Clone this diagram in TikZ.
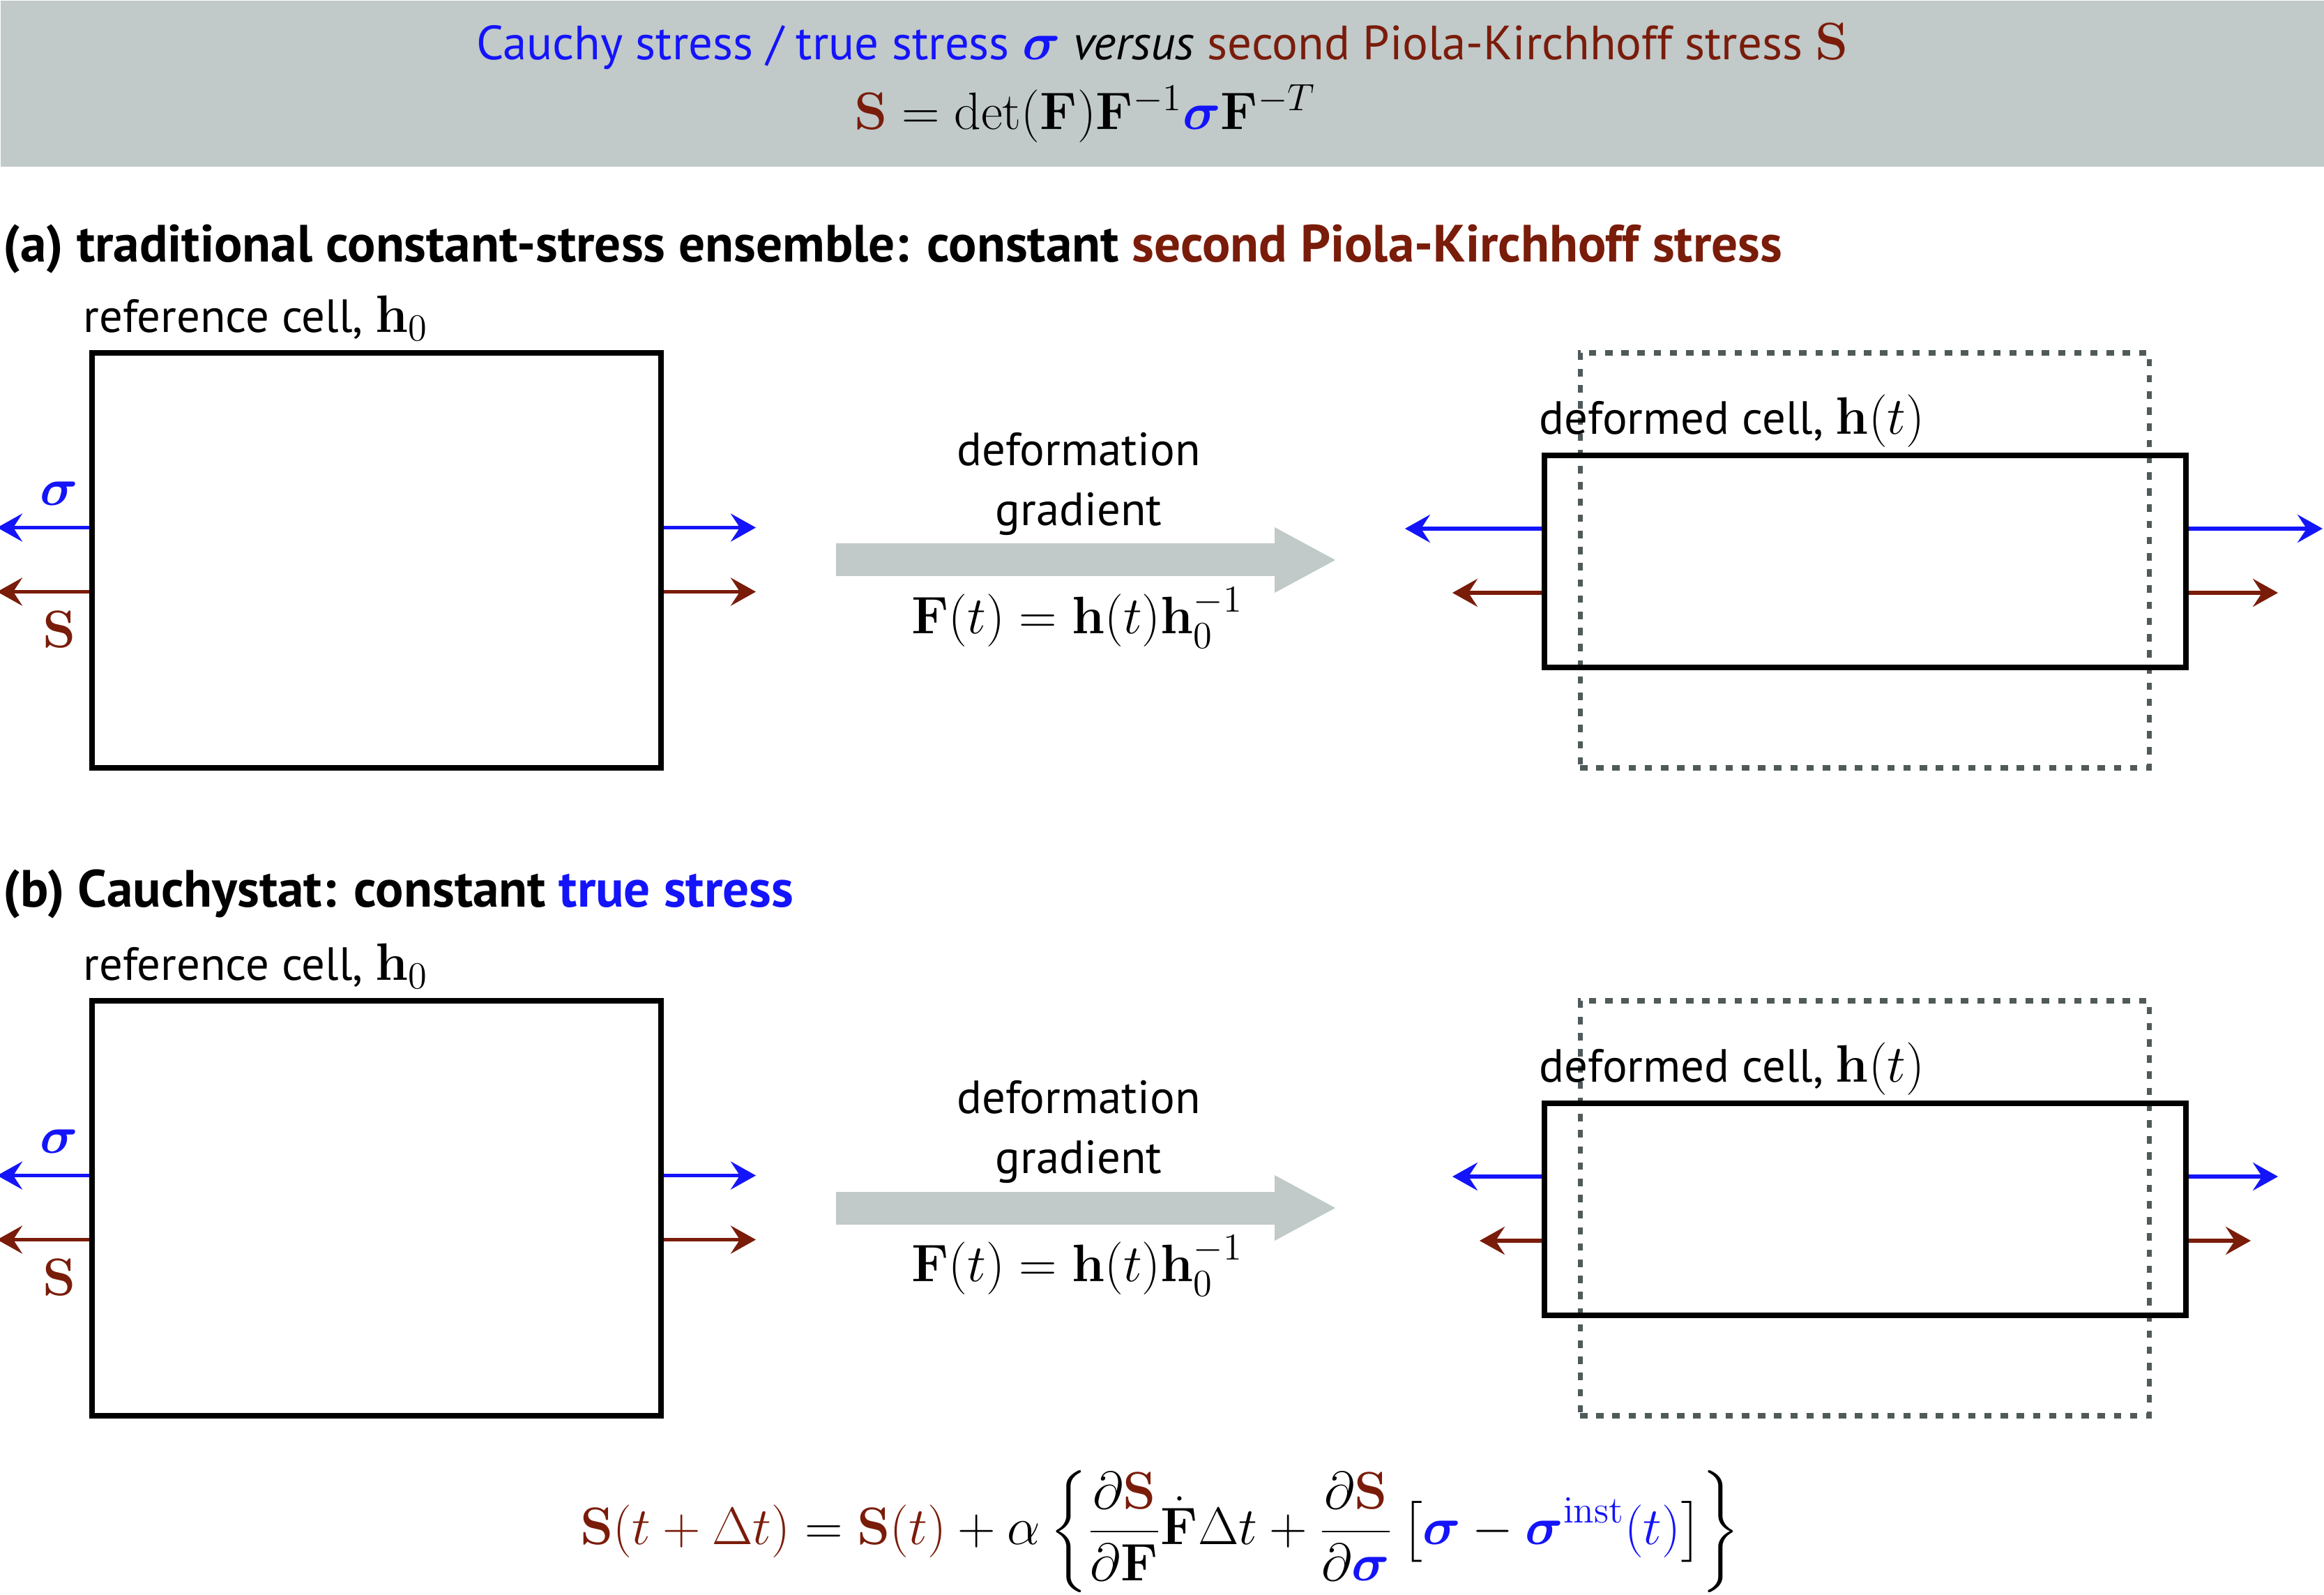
\RequirePackage{fix-cm}
\documentclass[tikz,border=0pt]{standalone}
\usepackage{amsmath,bm}
\usepackage[no-math]{fontspec}
\setmainfont{PT Sans}
\usetikzlibrary{arrows.meta,positioning,calc}
\definecolor{csblue}{RGB}{20,20,250}
\definecolor{pkbrown}{RGB}{122,28,10}
\definecolor{bandgray}{RGB}{193,201,201}
\definecolor{dotgray}{RGB}{80,90,90}
\DeclareMathSizes{19}{21.5}{15.5}{11.5}
\DeclareMathSizes{19.6}{21.5}{15.5}{11.5}
\newcommand{\figfont}{\fontsize{19}{24.5}\selectfont}
\newcommand{\titlefont}{\fontsize{19.6}{24.5}\selectfont}
\newcommand{\headfont}{\fontsize{21.4}{25}\selectfont\bfseries}

\tikzset{
  refcell/.style={rectangle, draw=black, line width=2.3pt,
      minimum width=8.16cm, minimum height=5.95cm, inner sep=0pt},
  defcell/.style={rectangle, draw=black, line width=2.3pt,
      minimum width=9.20cm, minimum height=3.04cm, inner sep=0pt},
  ghostcell/.style={rectangle, draw=dotgray, line width=2pt,
      dash pattern=on 3pt off 3.6pt,
      minimum width=8.16cm, minimum height=5.95cm, inner sep=0pt},
  sigarrow/.style={draw=csblue, line width=1.6pt,
      -{Stealth[length=0.36cm,width=0.40cm,inset=0.13cm]}},
  pkarrow/.style={draw=pkbrown, line width=1.6pt,
      -{Stealth[length=0.36cm,width=0.40cm,inset=0.13cm]}},
  bigarrow/.style={draw=bandgray, line width=0.47cm,
      -{Triangle[length=0.89cm,width=0.87cm]}},
  celllabel/.style={anchor=south west, inner sep=0pt, font=\figfont}
}

\begin{document}
\begin{tikzpicture}
\useasboundingbox (0,0) rectangle (33.33,-22.87);

% header
\node[rectangle, fill=bandgray, minimum width=33.33cm, minimum height=2.38cm,
      inner sep=0pt, anchor=north west] (band) at (0,0) {};
\node[font=\titlefont] (title) at (16.67,-0.67)
  {\textcolor{csblue}{Cauchy stress / true stress $\bm{\sigma}$} \textit{versus}
   \textcolor{pkbrown}{second Piola-Kirchhoff stress $\mathbf{S}$}};
\node[font=\figfont] (relation) at (15.56,-1.63)
  {${\color{pkbrown}\mathbf{S}} = \det(\mathbf{F})\mathbf{F}^{-1}{\color{csblue}\bm{\sigma}}\mathbf{F}^{-T}$};

% (a) constant second Piola-Kirchhoff stress
\node[font=\headfont, anchor=west, inner sep=0pt] (heada) at (0.04,-3.57)
  {(a) traditional constant-stress ensemble: constant \textcolor{pkbrown}{second Piola-Kirchhoff stress}};

\node[refcell] (refa) at (5.40,-8.035) {};
\node[celllabel, xshift=-0.09cm, yshift=0.13cm] (refalab) at (refa.north west)
  {reference cell, $\mathbf{h}_0$};
\draw[sigarrow] ([yshift=0.47cm]refa.west) -- ++(-1.32,0) coordinate (refa-sl);
\draw[pkarrow]  ([yshift=-0.45cm]refa.west) -- ++(-1.32,0) coordinate (refa-pl);
\draw[sigarrow] ([yshift=0.47cm]refa.east) -- ++(1.32,0) coordinate (refa-sr);
\draw[pkarrow]  ([yshift=-0.45cm]refa.east) -- ++(1.32,0) coordinate (refa-pr);
\node[font=\figfont, text=csblue] (refa-sig) at (0.85,-7.08) {$\bm{\sigma}$};
\node[font=\figfont, text=pkbrown] (refa-pk) at (0.85,-9.03) {$\mathbf{S}$};

\coordinate (fa-from) at (11.99,-8.03);
\coordinate (fa-to) at (19.17,-8.03);
\draw[bigarrow] (fa-from) -- (fa-to);
\node[font=\figfont, align=center] (fa-name) at (15.47,-6.94) {deformation\\gradient};
\node[font=\figfont] (fa-eq) at (15.45,-8.86) {$\mathbf{F}(t) = \mathbf{h}(t)\mathbf{h}_0^{-1}$};

\node[ghostcell] (dota) at (26.74,-8.035) {};
\node[defcell] (defa) at (26.75,-8.05) {};
\node[celllabel, xshift=-0.04cm, yshift=0.07cm] (defalab) at (defa.north west)
  {deformed cell, $\mathbf{h}(t)$};
\draw[sigarrow] ([yshift=0.47cm]defa.west) -- ++(-1.96,0) coordinate (defa-sl);
\draw[pkarrow]  ([yshift=-0.45cm]defa.west) -- ++(-1.28,0) coordinate (defa-pl);
\draw[sigarrow] ([yshift=0.47cm]defa.east) -- ++(1.92,0) coordinate (defa-sr);
\draw[pkarrow]  ([yshift=-0.45cm]defa.east) -- ++(1.28,0) coordinate (defa-pr);

% (b) Cauchystat
\node[font=\headfont, anchor=west, inner sep=0pt] (headb) at (0.04,-12.82)
  {(b) Cauchystat: constant \textcolor{csblue}{true stress}};

\node[refcell] (refb) at (5.40,-17.325) {};
\node[celllabel, xshift=-0.09cm, yshift=0.13cm] (refblab) at (refb.north west)
  {reference cell, $\mathbf{h}_0$};
\draw[sigarrow] ([yshift=0.47cm]refb.west) -- ++(-1.32,0) coordinate (refb-sl);
\draw[pkarrow]  ([yshift=-0.45cm]refb.west) -- ++(-1.32,0) coordinate (refb-pl);
\draw[sigarrow] ([yshift=0.47cm]refb.east) -- ++(1.32,0) coordinate (refb-sr);
\draw[pkarrow]  ([yshift=-0.45cm]refb.east) -- ++(1.32,0) coordinate (refb-pr);
\node[font=\figfont, text=csblue] (refb-sig) at (0.85,-16.37) {$\bm{\sigma}$};
\node[font=\figfont, text=pkbrown] (refb-pk) at (0.85,-18.32) {$\mathbf{S}$};

\coordinate (fb-from) at (11.99,-17.32);
\coordinate (fb-to) at (19.17,-17.32);
\draw[bigarrow] (fb-from) -- (fb-to);
\node[font=\figfont, align=center] (fb-name) at (15.47,-16.23) {deformation\\gradient};
\node[font=\figfont] (fb-eq) at (15.45,-18.15) {$\mathbf{F}(t) = \mathbf{h}(t)\mathbf{h}_0^{-1}$};

\node[ghostcell] (dotb) at (26.74,-17.325) {};
\node[defcell] (defb) at (26.75,-17.34) {};
\node[celllabel, xshift=-0.04cm, yshift=0.07cm] (defblab) at (defb.north west)
  {deformed cell, $\mathbf{h}(t)$};
\draw[sigarrow] ([yshift=0.47cm]defb.west) -- ++(-1.28,0) coordinate (defb-sl);
\draw[pkarrow]  ([yshift=-0.45cm]defb.west) -- ++(-0.89,0) coordinate (defb-pl);
\draw[sigarrow] ([yshift=0.47cm]defb.east) -- ++(1.28,0) coordinate (defb-sr);
\draw[pkarrow]  ([yshift=-0.45cm]defb.east) -- ++(0.89,0) coordinate (defb-pr);

% Cauchystat update rule
\node[font=\figfont] (update) at (16.64,-21.96)
  {$\displaystyle {\color{pkbrown}\mathbf{S}(t+\Delta t)} = {\color{pkbrown}\mathbf{S}(t)} + \alpha
   \left\{ \frac{\partial{\color{pkbrown}\mathbf{S}}}{\partial\mathbf{F}}\dot{\mathbf{F}}\Delta t
   + \frac{\partial{\color{pkbrown}\mathbf{S}}}{\partial{\color{csblue}\bm{\sigma}}}\,
   \bigl[{\color{csblue}\bm{\sigma}} - {\color{csblue}\bm{\sigma}^{\mathrm{inst}}(t)}\bigr] \right\}$};
\end{tikzpicture}
\end{document}
